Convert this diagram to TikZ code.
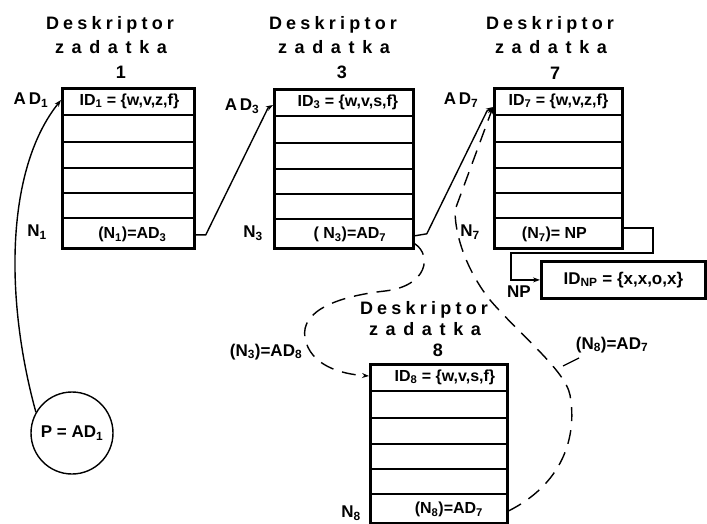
\documentclass[tikz,border=0pt]{standalone}
\usepackage{fontspec}
\setmainfont{Liberation Sans}
\usetikzlibrary{arrows.meta,calc}
\tikzset{
  frame/.style={draw, line width=2.8pt, inner sep=0pt},
  rowline/.style={line width=1.2pt},
  ptr/.style={line width=1.4pt, -{Stealth[length=7pt,width=5pt]}},
  dptr/.style={ptr, dash pattern=on 14pt off 9pt},
  lbl/.style={font=\fontsize{17}{17}\selectfont\bfseries, inner sep=0pt},
  cell/.style={font=\fontsize{16}{16}\selectfont\bfseries, inner sep=0pt},
  ttl/.style={font=\fontsize{18}{18}\selectfont\bfseries, inner sep=0pt},
  pcirc/.style={draw, circle, line width=1.4pt, minimum size=82pt, inner sep=0pt, font=\fontsize{17}{17}\selectfont\bfseries},
}
\newcommand{\spc}[2]{\makebox[#1pt][s]{#2}}
\newcommand{\tDes}{\spc{128}{D\hfil e\hfil s\hfil k\hfil r\hfil i\hfil p\hfil t\hfil o\hfil r}}
\newcommand{\tZad}{\spc{112}{z\hfil a\hfil d\hfil a\hfil t\hfil k\hfil a}}
\newcommand{\dbox}[5]{%
  \node[frame, minimum width=#4pt, minimum height=#5pt, anchor=north west] (#1) at (#2,#3) {};
  \foreach \o in {28,55,81,106,131}
    \draw[rowline] ($(#1.north west)+(0,\o)$) -- ($(#1.north east)+(0,\o)$);
}
\begin{document}
\begin{tikzpicture}[x=1pt,y=-1pt]
\useasboundingbox (0,0) rectangle (707,524);

% descriptor boxes
\dbox{b1}{61}{87}{132}{160}
\dbox{b3}{273}{88}{139}{159}
\dbox{b7}{493}{87}{128}{160}
\dbox{b8}{369}{363}{137}{159}
\node[frame, minimum width=164pt, minimum height=37pt, anchor=north west] (np) at (540,260) {};

% titles
\node[ttl] (t1a) at (110,25) {\tDes};
\node[ttl] (t1b) at (111,47) {\tZad};
\node[ttl] (t1c) at (121,72) {1};
\node[ttl] (t3a) at (333,25) {\tDes};
\node[ttl] (t3b) at (334,47) {\tZad};
\node[ttl] (t3c) at (342,72) {3};
\node[ttl] (t7a) at (550,25) {\tDes};
\node[ttl] (t7b) at (551,47) {\tZad};
\node[ttl] (t7c) at (555,73) {7};
\node[ttl] (t8a) at (424,310) {\tDes};
\node[ttl] (t8b) at (425,329) {\tZad};
\node[ttl] (t8c) at (438,350) {8};

% cell texts
\node[cell] (h1) at ($(b1.north)+(1,14)$) {ID\textsubscript{1} = \{w,v,z,f\}};
\node[cell] (f1) at ($(b1.south)+(4,-15)$) {(N\textsubscript{1})=AD\textsubscript{3}};
\node[cell] (h3) at ($(b3.north)+(4,14)$) {ID\textsubscript{3} = \{w,v,s,f\}};
\node[cell] (f3) at ($(b3.south)+(6,-15)$) {( N\textsubscript{3})=AD\textsubscript{7}};
\node[cell] (h7) at ($(b7.north)+(0,14)$) {ID\textsubscript{7} = \{w,v,z,f\}};
\node[cell] (f7) at ($(b7.south)+(-4,-15)$) {(N\textsubscript{7})= NP};
\node[cell] (h8) at ($(b8.north)+(6,14)$) {ID\textsubscript{8} = \{w,v,s,f\}};
\node[cell] (f8) at ($(b8.south)+(10,-15)$) {(N\textsubscript{8})=AD\textsubscript{7}};
\node[cell, font=\fontsize{17}{17}\selectfont\bfseries] (hnp) at (np.center) {ID\textsubscript{NP} = \{x,x,o,x\}};

% side labels
\node[lbl] (lad1) at (31,100) {A\,D\textsubscript{1}};
\node[lbl] (ln1) at (37,232) {N\textsubscript{1}};
\node[lbl] (lad3) at (242,106) {A\,D\textsubscript{3}};
\node[lbl] (ln3) at (253,233) {N\textsubscript{3}};
\node[lbl] (lad7) at (461,100) {A\,D\textsubscript{7}};
\node[lbl] (ln7) at (470,232) {N\textsubscript{7}};
\node[lbl] (ln8) at (351,513) {N\textsubscript{8}};
\node[lbl] (lnp) at (519,292) {NP};
\node[lbl] (l38) at (266,352) {(N\textsubscript{3})=AD\textsubscript{8}};
\node[lbl] (l87) at (612,345) {(N\textsubscript{8})=AD\textsubscript{7}};

% pointer circle
\node[pcirc] (P) at (72,433) {P = AD\textsubscript{1}};

% connection points
\coordinate (b1in) at ($(b1.north west)+(0,13)$);
\coordinate (b1out) at ($(b1.south east)+(0,-15)$);
\coordinate (b3in) at ($(b3.north west)+(0,17)$);
\coordinate (b3out) at ($(b3.south east)+(0,-14)$);
\coordinate (b3out2) at ($(b3.south east)+(0,-6)$);
\coordinate (b7in) at ($(b7.north west)+(0,20)$);
\coordinate (b7out) at ($(b7.north east)+(0,141)$);
\coordinate (b8in) at ($(b8.north west)+(0,13)$);
\coordinate (b8out) at ($(b8.south east)+(0,-14)$);
\coordinate (lead1) at (579,358);
\coordinate (lead2) at (563,366);

% connectors
\draw[ptr] (P.150) .. controls (5,300) and (5,170) .. (b1in);
\draw[ptr] (b1out) -- ++(10,0) -- (268,108) -- (b3in);
\draw[ptr] (b3out) -- ++(12,-2) -- (487,111) -- (b7in);
\draw[dptr] (b3out2) .. controls (432,255) and (428,286) .. (385,291)
  .. controls (340,296) and (300,310) .. (305,338)
  .. controls (310,365) and (340,374) .. (b8in);
\draw[dptr] (b8out) .. controls (560,485) and (578,440) .. (570,395)
  .. controls (565,370) and (520,335) .. (490,300)
  .. controls (470,275) and (455,240) .. (455,210) -- (b7in);
\draw[rowline] (lead1) -- (lead2);
\draw[ptr] (b7out) -- (653,228) -- (653,253) -- (511,253) |- (np.west);
\end{tikzpicture}
\end{document}
